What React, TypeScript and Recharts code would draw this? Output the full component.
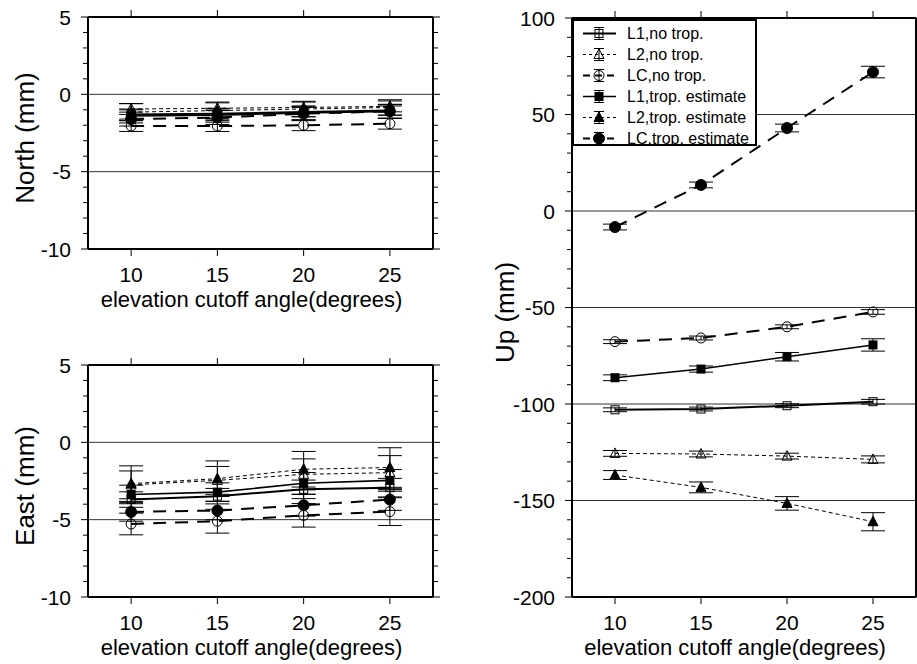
import { LineChart, Line, XAxis, YAxis, ErrorBar, ReferenceLine, Legend } from 'recharts'

const FONT = '"Liberation Sans", Arial, Helvetica, sans-serif'

const angles = [10, 15, 20, 25]
const xTicks = [10, 15, 20, 25]
const xTitle = 'elevation cutoff angle(degrees)'

// North (mm)
const northL1NoTrop = [-1.3, -1.25, -1.15, -1.05]
const northL2NoTrop = [-0.95, -0.9, -0.85, -0.78]
const northLCNoTrop = [-2.05, -2.05, -2.0, -1.9]
const northL1Trop = [-1.4, -1.35, -1.2, -1.1]
const northL2Trop = [-1.15, -1.05, -0.95, -0.85]
const northLCTrop = [-1.6, -1.5, -1.25, -1.1]
const northL1NoTropErr = [0.3, 0.3, 0.3, 0.3]
const northL2NoTropErr = [0.35, 0.35, 0.35, 0.35]
const northLCNoTropErr = [0.35, 0.35, 0.35, 0.35]
const northL1TropErr = [0.45, 0.45, 0.45, 0.45]
const northL2TropErr = [0.55, 0.55, 0.5, 0.5]
const northLCTropErr = [0.45, 0.45, 0.45, 0.45]

// East (mm)
const eastL1NoTrop = [-3.7, -3.48, -3.04, -2.93]
const eastL2NoTrop = [-2.75, -2.46, -2.07, -1.96]
const eastLCNoTrop = [-5.28, -5.1, -4.72, -4.48]
const eastL1Trop = [-3.37, -3.22, -2.65, -2.46]
const eastL2Trop = [-2.67, -2.35, -1.74, -1.63]
const eastLCTrop = [-4.5, -4.41, -4.07, -3.7]
const eastL1NoTropErr = [0.5, 0.5, 0.6, 0.6]
const eastL2NoTropErr = [0.9, 0.9, 1.0, 1.1]
const eastLCNoTropErr = [0.7, 0.77, 0.76, 0.9]
const eastL1TropErr = [0.6, 0.6, 0.7, 0.7]
const eastL2TropErr = [1.15, 1.15, 1.15, 1.28]
const eastLCTropErr = [0.6, 0.6, 0.7, 0.7]

// Up (mm)
const upL1NoTrop = [-103, -102.6, -100.9, -98.8]
const upL2NoTrop = [-125.6, -125.9, -127, -128.7]
const upLCNoTrop = [-67.7, -65.8, -60, -52.3]
const upL1Trop = [-86.4, -81.9, -75.5, -69.4]
const upL2Trop = [-136.8, -143.2, -151.5, -161]
const upLCTrop = [-8.3, 13.5, 43, 72]
const upL1NoTropErr = [1, 1, 1, 1.2]
const upL2NoTropErr = [1.5, 1.5, 1.5, 1.8]
const upLCNoTropErr = [1, 1, 1, 1.2]
const upL1TropErr = [1.5, 1.6, 2.2, 3.2]
const upL2TropErr = [2.3, 2.8, 3.5, 4.7]
const upLCTropErr = [1.5, 1.5, 2, 3]

const smallYTicks = [-10, -9, -8, -7, -6, -5, -4, -3, -2, -1, 0, 1, 2, 3, 4, 5]
const smallYLabels = [-10, -5, 0, 5]
const smallGrid = [0, -5]
const upYTicks = [-200, -190, -180, -170, -160, -150, -140, -130, -120, -110, -100, -90, -80, -70, -60, -50, -40, -30, -20, -10, 0, 10, 20, 30, 40, 50, 60, 70, 80, 90, 100]
const upYLabels = [-200, -150, -100, -50, 0, 50, 100]
const upGrid = [50, 0, -50, -100, -150]

type Shape = 'square' | 'triangle' | 'circle'
const SERIES: { key: string; name: string; shape: Shape; filled: boolean; width: number; dash?: string; legendDash?: string }[] = [
  { key: 'l1n', name: 'L1,no trop.', shape: 'square', filled: false, width: 2 },
  { key: 'l2n', name: 'L2,no trop.', shape: 'triangle', filled: false, width: 1, dash: '4 3', legendDash: '3 3' },
  { key: 'lcn', name: 'LC,no trop.', shape: 'circle', filled: false, width: 2, dash: '13 9', legendDash: '7 5' },
  { key: 'l1t', name: 'L1,trop. estimate', shape: 'square', filled: true, width: 1.6 },
  { key: 'l2t', name: 'L2,trop. estimate', shape: 'triangle', filled: true, width: 1, dash: '4 3', legendDash: '3 3' },
  { key: 'lct', name: 'LC,trop. estimate', shape: 'circle', filled: true, width: 2, dash: '13 9', legendDash: '7 5' },
]

function buildRows(values: number[][], errs: number[][]) {
  return angles.map((x, i) => {
    const row: Record<string, number> = { x }
    SERIES.forEach((s, j) => {
      row[s.key] = values[j][i]
      row[s.key + 'Err'] = errs[j][i]
    })
    return row
  })
}

const northRows = buildRows(
  [northL1NoTrop, northL2NoTrop, northLCNoTrop, northL1Trop, northL2Trop, northLCTrop],
  [northL1NoTropErr, northL2NoTropErr, northLCNoTropErr, northL1TropErr, northL2TropErr, northLCTropErr]
)
const eastRows = buildRows(
  [eastL1NoTrop, eastL2NoTrop, eastLCNoTrop, eastL1Trop, eastL2Trop, eastLCTrop],
  [eastL1NoTropErr, eastL2NoTropErr, eastLCNoTropErr, eastL1TropErr, eastL2TropErr, eastLCTropErr]
)
const upRows = buildRows(
  [upL1NoTrop, upL2NoTrop, upLCNoTrop, upL1Trop, upL2Trop, upLCTrop],
  [upL1NoTropErr, upL2NoTropErr, upLCNoTropErr, upL1TropErr, upL2TropErr, upLCTropErr]
)

function Marker({ cx, cy, shape, filled }: { cx: number; cy: number; shape: Shape; filled: boolean }) {
  if (cx == null || cy == null) return null
  const fill = filled ? '#000' : 'none'
  if (shape === 'square') {
    const s = 8
    return <rect x={cx - s / 2} y={cy - s / 2} width={s} height={s} fill={fill} stroke="#000" strokeWidth={1} />
  }
  if (shape === 'triangle') {
    const pts = `${cx},${cy - 5.5} ${cx - 5},${cy + 4} ${cx + 5},${cy + 4}`
    return <polygon points={pts} fill={fill} stroke="#000" strokeWidth={1} />
  }
  return <circle cx={cx} cy={cy} r={filled ? 5.5 : 5} fill={fill} stroke="#000" strokeWidth={1} />
}

function renderLegend() {
  return (
    <div
      style={{
        width: 185,
        height: 127,
        boxSizing: 'border-box',
        border: '2px solid #000',
        background: '#fff',
        overflow: 'hidden',
        paddingTop: 2,
        fontFamily: FONT,
        fontSize: 16,
        color: '#000',
        textAlign: 'left',
      }}
    >
      {SERIES.map((s) => (
        <div key={s.key} style={{ display: 'flex', alignItems: 'center', height: 21 }}>
          <svg width={53} height={21} style={{ flex: 'none' }}>
            <line x1={9} x2={42} y1={10.5} y2={10.5} stroke="#000" strokeWidth={s.width} strokeDasharray={s.legendDash} />
            <line x1={25} x2={25} y1={4.5} y2={16.5} stroke="#000" strokeWidth={1} />
            <line x1={20} x2={30} y1={4.5} y2={4.5} stroke="#000" strokeWidth={1} />
            <line x1={20} x2={30} y1={16.5} y2={16.5} stroke="#000" strokeWidth={1} />
            <Marker cx={25} cy={10.5} shape={s.shape} filled={s.filled} />
          </svg>
          <span style={{ whiteSpace: 'nowrap' }}>{s.name}</span>
        </div>
      ))}
    </div>
  )
}

type PanelProps = {
  rows: Record<string, number>[]
  left: number
  top: number
  width: number
  height: number
  marginTop: number
  yAxisWidth: number
  rightAxisWidth: number
  xAxisHeight: number
  yDomain: [number, number]
  yTicks: number[]
  yLabels: number[]
  grid: number[]
  title: string
  titleX: number
  legend?: boolean
}

function Panel(p: PanelProps) {
  const textStyle = { fontFamily: FONT, fontSize: 21, fill: '#000' }
  return (
    <div style={{ position: 'absolute', left: p.left, top: p.top, width: p.width, height: p.height }}>
      <LineChart width={p.width} height={p.height} data={p.rows} margin={{ top: p.marginTop, right: 0, bottom: 0, left: 0 }}>
        <XAxis
          xAxisId="b"
          dataKey="x"
          type="number"
          domain={[7.5, 27.5]}
          allowDataOverflow
          ticks={xTicks}
          interval={0}
          height={p.xAxisHeight}
          tickSize={0}
          tickMargin={0}
          tickLine={false}
          axisLine={{ stroke: '#000', strokeWidth: 2 }}
          tick={(t: any) => (
            <g>
              <line x1={t.x} x2={t.x} y1={t.y} y2={t.y + 7} stroke="#000" strokeWidth={1} />
              <text x={t.x} y={t.y + 25.5} textAnchor="middle" dominantBaseline="central" style={textStyle}>
                {t.payload.value}
              </text>
            </g>
          )}
          label={{
            content: (lp: any) => {
              const vb = lp.viewBox || {}
              return (
                <text x={vb.x + vb.width / 2 - 9} y={vb.y + 57.5} textAnchor="middle" style={{ ...textStyle, fontSize: 22 }}>
                  {xTitle}
                </text>
              )
            },
          }}
        />
        <XAxis
          xAxisId="t"
          dataKey="x"
          type="number"
          orientation="top"
          domain={[7.5, 27.5]}
          allowDataOverflow
          ticks={xTicks}
          interval={0}
          height={10}
          tickSize={0}
          tickMargin={0}
          tickLine={false}
          axisLine={{ stroke: '#000', strokeWidth: 2 }}
          tick={(t: any) => <line x1={t.x} x2={t.x} y1={t.y} y2={t.y - 7} stroke="#000" strokeWidth={1} />}
        />
        <YAxis
          yAxisId="l"
          type="number"
          domain={p.yDomain}
          allowDataOverflow
          ticks={p.yTicks}
          interval={0}
          width={p.yAxisWidth}
          tickSize={0}
          tickMargin={0}
          tickLine={false}
          axisLine={{ stroke: '#000', strokeWidth: 2 }}
          tick={(t: any) => {
            const major = p.yLabels.includes(t.payload.value)
            return (
              <g>
                <line x1={t.x} x2={t.x - (major ? 7 : 5)} y1={t.y} y2={t.y} stroke="#000" strokeWidth={1} />
                {major && (
                  <text x={t.x - 17} y={t.y} textAnchor="end" dominantBaseline="central" style={textStyle}>
                    {t.payload.value}
                  </text>
                )}
              </g>
            )
          }}
          label={{
            content: (lp: any) => {
              const vb = lp.viewBox || {}
              const cx = vb.x + p.titleX
              const cy = vb.y + vb.height / 2 + 5
              return (
                <text
                  x={cx}
                  y={cy}
                  transform={`rotate(-90 ${cx} ${cy})`}
                  textAnchor="middle"
                  dominantBaseline="central"
                  style={{ fontFamily: FONT, fontSize: 26, fill: '#000' }}
                >
                  {p.title}
                </text>
              )
            },
          }}
        />
        <YAxis
          yAxisId="r"
          type="number"
          orientation="right"
          domain={p.yDomain}
          allowDataOverflow
          ticks={p.yTicks}
          interval={0}
          width={p.rightAxisWidth}
          tickSize={0}
          tickMargin={0}
          tickLine={false}
          axisLine={{ stroke: '#000', strokeWidth: 2 }}
          tick={(t: any) => {
            const major = p.yLabels.includes(t.payload.value)
            return <line x1={t.x} x2={t.x + (major ? 7 : 5)} y1={t.y} y2={t.y} stroke="#000" strokeWidth={1} />
          }}
        />
        {p.grid.map((g) => (
          <ReferenceLine key={g} y={g} xAxisId="b" yAxisId="l" stroke="#333" strokeWidth={1} />
        ))}
        {SERIES.map((s) => (
          <Line
            key={s.key}
            xAxisId="b"
            yAxisId="l"
            dataKey={s.key}
            stroke="#000"
            strokeWidth={s.width}
            strokeDasharray={s.dash}
            isAnimationActive={false}
            activeDot={false}
            dot={(d: any) => <Marker key={`${s.key}-${d.index}`} cx={d.cx} cy={d.cy} shape={s.shape} filled={s.filled} />}
          >
            <ErrorBar dataKey={s.key + 'Err'} width={12} stroke="#000" strokeWidth={1} direction="y" isAnimationActive={false} />
          </Line>
        ))}
        {p.legend && (
          <Legend
            layout="vertical"
            align="center"
            verticalAlign="middle"
            content={renderLegend}
            wrapperStyle={{ left: p.yAxisWidth, top: p.marginTop + 11, width: 185, height: 127 }}
          />
        )}
      </LineChart>
    </div>
  )
}

export default function App() {
  return (
    <div style={{ position: 'absolute', left: 0, top: 0, width: 917, height: 664, background: '#fff', overflow: 'hidden' }}>
      <Panel
        rows={northRows}
        left={0}
        top={0}
        width={440}
        height={330}
        marginTop={7}
        yAxisWidth={88}
        rightAxisWidth={7}
        xAxisHeight={81}
        yDomain={[-10, 5]}
        yTicks={smallYTicks}
        yLabels={smallYLabels}
        grid={smallGrid}
        title="North (mm)"
        titleX={25}
      />
      <Panel
        rows={eastRows}
        left={0}
        top={330}
        width={440}
        height={334}
        marginTop={25}
        yAxisWidth={88}
        rightAxisWidth={7}
        xAxisHeight={67}
        yDomain={[-10, 5]}
        yTicks={smallYTicks}
        yLabels={smallYLabels}
        grid={smallGrid}
        title="East (mm)"
        titleX={25}
      />
      <Panel
        rows={upRows}
        left={470}
        top={0}
        width={447}
        height={664}
        marginTop={8}
        yAxisWidth={102}
        rightAxisWidth={1}
        xAxisHeight={67}
        yDomain={[-200, 100]}
        yTicks={upYTicks}
        yLabels={upYLabels}
        grid={upGrid}
        title="Up (mm)"
        titleX={35}
        legend
      />
    </div>
  )
}
